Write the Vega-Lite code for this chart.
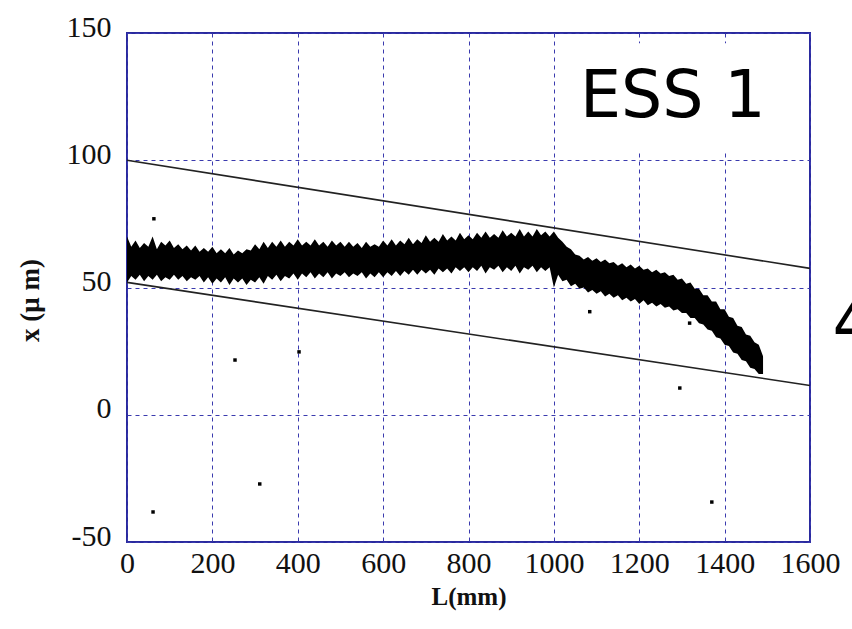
{
  "$schema": "https://vega.github.io/schema/vega-lite/v6.json",
  "autosize": {"type": "none"},
  "padding": {"left": 127, "top": 33, "right": 42, "bottom": 87},
  "width": 683,
  "height": 509,
  "background": "white",
  "config": {
    "view": {"stroke": "#2a2a9e", "strokeWidth": 2},
    "axis": {
      "grid": true,
      "gridColor": "#3a3aae",
      "gridDash": [4, 4],
      "gridWidth": 1,
      "domain": false,
      "ticks": false,
      "labelFont": "Liberation Serif",
      "labelFontSize": 30,
      "labelColor": "#111111",
      "labelOverlap": false,
      "labelFlush": false,
      "labelBound": false,
      "labelExpr": "'' + datum.value",
      "titleFont": "Liberation Serif",
      "titleFontWeight": "bold",
      "titleColor": "#111111"
    }
  },
  "datasets": {
    "band": [
      {"L": 0, "lo": 52, "hi": 70}, {"L": 10, "lo": 54.5, "hi": 66}, {"L": 20, "lo": 53, "hi": 68.5}, {"L": 30, "lo": 55, "hi": 65.5},
      {"L": 40, "lo": 52.5, "hi": 67.5}, {"L": 50, "lo": 54.5, "hi": 66}, {"L": 60, "lo": 53, "hi": 70}, {"L": 70, "lo": 55, "hi": 65},
      {"L": 80, "lo": 52.5, "hi": 68}, {"L": 90, "lo": 54, "hi": 66.5}, {"L": 100, "lo": 53, "hi": 68.5}, {"L": 110, "lo": 55, "hi": 65.5},
      {"L": 120, "lo": 53, "hi": 67}, {"L": 130, "lo": 54.5, "hi": 65}, {"L": 140, "lo": 52.5, "hi": 66.5}, {"L": 150, "lo": 54, "hi": 64.5},
      {"L": 160, "lo": 53, "hi": 66.5}, {"L": 170, "lo": 54.5, "hi": 64}, {"L": 180, "lo": 52, "hi": 65.5}, {"L": 190, "lo": 54, "hi": 64},
      {"L": 200, "lo": 51.5, "hi": 66}, {"L": 210, "lo": 53.5, "hi": 63.5}, {"L": 220, "lo": 52, "hi": 65}, {"L": 230, "lo": 54, "hi": 63.5},
      {"L": 240, "lo": 51, "hi": 65.5}, {"L": 250, "lo": 53.5, "hi": 63}, {"L": 260, "lo": 52, "hi": 64.5}, {"L": 270, "lo": 53.5, "hi": 63.5},
      {"L": 280, "lo": 51, "hi": 65}, {"L": 290, "lo": 53, "hi": 64.5}, {"L": 300, "lo": 52, "hi": 67}, {"L": 310, "lo": 54, "hi": 65},
      {"L": 320, "lo": 51.5, "hi": 68}, {"L": 330, "lo": 54.5, "hi": 65.5}, {"L": 340, "lo": 53, "hi": 68}, {"L": 350, "lo": 55, "hi": 66},
      {"L": 360, "lo": 52.5, "hi": 68.5}, {"L": 370, "lo": 54.5, "hi": 66}, {"L": 380, "lo": 53.5, "hi": 68}, {"L": 390, "lo": 55.5, "hi": 66.5},
      {"L": 400, "lo": 53, "hi": 69}, {"L": 410, "lo": 55.5, "hi": 66.5}, {"L": 420, "lo": 54, "hi": 68}, {"L": 430, "lo": 56, "hi": 66.5},
      {"L": 440, "lo": 53.5, "hi": 69}, {"L": 450, "lo": 55.5, "hi": 66.5}, {"L": 460, "lo": 54, "hi": 68}, {"L": 470, "lo": 56, "hi": 66},
      {"L": 480, "lo": 53.5, "hi": 68.5}, {"L": 490, "lo": 55.5, "hi": 66.5}, {"L": 500, "lo": 54.5, "hi": 68}, {"L": 510, "lo": 56, "hi": 66},
      {"L": 520, "lo": 54, "hi": 68}, {"L": 530, "lo": 55.5, "hi": 66}, {"L": 540, "lo": 54.5, "hi": 67.5}, {"L": 550, "lo": 56, "hi": 65.5},
      {"L": 560, "lo": 53.5, "hi": 68}, {"L": 570, "lo": 55.5, "hi": 66}, {"L": 580, "lo": 54, "hi": 67}, {"L": 590, "lo": 56, "hi": 66},
      {"L": 600, "lo": 54, "hi": 68.5}, {"L": 610, "lo": 56, "hi": 66.5}, {"L": 620, "lo": 54.5, "hi": 69}, {"L": 630, "lo": 56.5, "hi": 66.5},
      {"L": 640, "lo": 54.5, "hi": 68.5}, {"L": 650, "lo": 56.5, "hi": 67}, {"L": 660, "lo": 55, "hi": 69.5}, {"L": 670, "lo": 57, "hi": 67},
      {"L": 680, "lo": 55, "hi": 69}, {"L": 690, "lo": 57, "hi": 67.5}, {"L": 700, "lo": 55.5, "hi": 70.5}, {"L": 710, "lo": 57, "hi": 68},
      {"L": 720, "lo": 55, "hi": 69.5}, {"L": 730, "lo": 57.5, "hi": 68}, {"L": 740, "lo": 56, "hi": 71}, {"L": 750, "lo": 57.5, "hi": 68.5},
      {"L": 760, "lo": 55.5, "hi": 70}, {"L": 770, "lo": 58, "hi": 68.5}, {"L": 780, "lo": 56.5, "hi": 71.5}, {"L": 790, "lo": 58, "hi": 69},
      {"L": 800, "lo": 56, "hi": 70.5}, {"L": 810, "lo": 58, "hi": 69}, {"L": 820, "lo": 56.5, "hi": 71.5}, {"L": 830, "lo": 58.5, "hi": 69.5},
      {"L": 840, "lo": 55.5, "hi": 72}, {"L": 850, "lo": 58, "hi": 69.5}, {"L": 860, "lo": 57, "hi": 71}, {"L": 870, "lo": 58.5, "hi": 69.5},
      {"L": 880, "lo": 56, "hi": 72.5}, {"L": 890, "lo": 58, "hi": 70}, {"L": 900, "lo": 56.5, "hi": 71.5}, {"L": 910, "lo": 58.5, "hi": 70},
      {"L": 920, "lo": 55.5, "hi": 73}, {"L": 930, "lo": 58, "hi": 70}, {"L": 940, "lo": 57, "hi": 72}, {"L": 950, "lo": 58.5, "hi": 70},
      {"L": 960, "lo": 56, "hi": 73}, {"L": 970, "lo": 58, "hi": 70.5}, {"L": 980, "lo": 56.5, "hi": 72}, {"L": 990, "lo": 58, "hi": 70},
      {"L": 1000, "lo": 50, "hi": 72}, {"L": 1010, "lo": 55, "hi": 69.5}, {"L": 1020, "lo": 52.5, "hi": 68}, {"L": 1030, "lo": 53, "hi": 66},
      {"L": 1040, "lo": 50.5, "hi": 65}, {"L": 1050, "lo": 51.5, "hi": 63}, {"L": 1060, "lo": 49.5, "hi": 62.5}, {"L": 1070, "lo": 50, "hi": 61},
      {"L": 1080, "lo": 48, "hi": 62}, {"L": 1090, "lo": 49, "hi": 60.5}, {"L": 1100, "lo": 47.5, "hi": 61.5}, {"L": 1110, "lo": 48.5, "hi": 60},
      {"L": 1120, "lo": 46.5, "hi": 61}, {"L": 1130, "lo": 47.5, "hi": 59.5}, {"L": 1140, "lo": 46, "hi": 60}, {"L": 1150, "lo": 47, "hi": 58.5},
      {"L": 1160, "lo": 45, "hi": 59.5}, {"L": 1170, "lo": 46, "hi": 58}, {"L": 1180, "lo": 44.5, "hi": 59}, {"L": 1190, "lo": 45.5, "hi": 57.5},
      {"L": 1200, "lo": 43.5, "hi": 58.5}, {"L": 1210, "lo": 45, "hi": 57}, {"L": 1220, "lo": 43, "hi": 57.5}, {"L": 1230, "lo": 44, "hi": 56},
      {"L": 1240, "lo": 42.5, "hi": 57}, {"L": 1250, "lo": 43.5, "hi": 55.5}, {"L": 1260, "lo": 42, "hi": 56}, {"L": 1270, "lo": 42.5, "hi": 54.5},
      {"L": 1280, "lo": 41, "hi": 55}, {"L": 1290, "lo": 41.5, "hi": 53}, {"L": 1300, "lo": 40, "hi": 53.5}, {"L": 1310, "lo": 40, "hi": 51.5},
      {"L": 1320, "lo": 38, "hi": 52}, {"L": 1330, "lo": 38, "hi": 49.5}, {"L": 1340, "lo": 36, "hi": 49.5}, {"L": 1350, "lo": 35.5, "hi": 47},
      {"L": 1360, "lo": 33.5, "hi": 47}, {"L": 1370, "lo": 33, "hi": 44.5}, {"L": 1380, "lo": 30.5, "hi": 44.5}, {"L": 1390, "lo": 30, "hi": 41.5},
      {"L": 1400, "lo": 27.5, "hi": 41.5}, {"L": 1410, "lo": 27, "hi": 38.5}, {"L": 1420, "lo": 24.5, "hi": 38}, {"L": 1430, "lo": 24, "hi": 35},
      {"L": 1440, "lo": 21.5, "hi": 34.5}, {"L": 1450, "lo": 21, "hi": 31.5}, {"L": 1460, "lo": 18.5, "hi": 31}, {"L": 1470, "lo": 18, "hi": 28.5},
      {"L": 1480, "lo": 16, "hi": 27.5}, {"L": 1490, "lo": 16, "hi": 23}
    ],
    "limits": [
      {"L": 0, "x": 100, "edge": "upper"},
      {"L": 1600, "x": 57.5, "edge": "upper"},
      {"L": 0, "x": 52, "edge": "lower"},
      {"L": 1600, "x": 11.5, "edge": "lower"}
    ],
    "outliers": [
      {"L": 61, "x": -38.2},
      {"L": 63, "x": 77},
      {"L": 253, "x": 21.5},
      {"L": 311, "x": -27.2},
      {"L": 403, "x": 24.7},
      {"L": 1084, "x": 40.5},
      {"L": 1295, "x": 10.5},
      {"L": 1318, "x": 36},
      {"L": 1370, "x": -34.3}
    ]
  },
  "layer": [
    {
      "data": {"name": "band"},
      "mark": {"type": "area", "color": "black", "opacity": 1},
      "encoding": {
        "x": {"field": "L", "type": "quantitative", "scale": {"domain": [0, 1600], "nice": false},
          "axis": {"values": [0, 200, 400, 600, 800, 1000, 1200, 1400, 1600], "title": "L(mm)", "titleFontSize": 25, "labelPadding": 6, "titlePadding": 6}},
        "y": {"field": "hi", "type": "quantitative", "scale": {"domain": [-50, 150], "nice": false},
          "axis": {"values": [-50, 0, 50, 100, 150], "title": "x (μ m)", "titleFontSize": 27, "labelPadding": 16, "labelOffset": -6, "titlePadding": 22, "titleY": 267}},
        "y2": {"field": "lo"}
      }
    },
    {
      "data": {"name": "limits"},
      "mark": {"type": "line", "color": "#222222", "strokeWidth": 1.6},
      "encoding": {
        "x": {"field": "L", "type": "quantitative"},
        "y": {"field": "x", "type": "quantitative"},
        "detail": {"field": "edge"}
      }
    },
    {
      "data": {"name": "outliers"},
      "mark": {"type": "square", "color": "black", "size": 12, "opacity": 1},
      "encoding": {
        "x": {"field": "L", "type": "quantitative"},
        "y": {"field": "x", "type": "quantitative"}
      }
    },
    {
      "data": {"values": [{}]},
      "mark": {"type": "rect", "color": "white", "opacity": 1},
      "encoding": {
        "x": {"datum": 1008},
        "x2": {"datum": 1595},
        "y": {"datum": 146},
        "y2": {"datum": 104}
      }
    },
    {
      "data": {"values": [{}]},
      "mark": {"type": "text", "text": "ESS 1", "font": "DejaVu Sans", "fontSize": 65, "color": "black", "align": "left", "baseline": "alphabetic"},
      "encoding": {
        "x": {"datum": 1061},
        "y": {"datum": 117}
      }
    },
    {
      "data": {"values": [{}]},
      "mark": {"type": "text", "text": "4", "font": "DejaVu Sans", "fontSize": 65, "color": "black", "align": "left", "baseline": "alphabetic"},
      "encoding": {
        "x": {"datum": 1653},
        "y": {"datum": 27.4}
      }
    }
  ]
}
